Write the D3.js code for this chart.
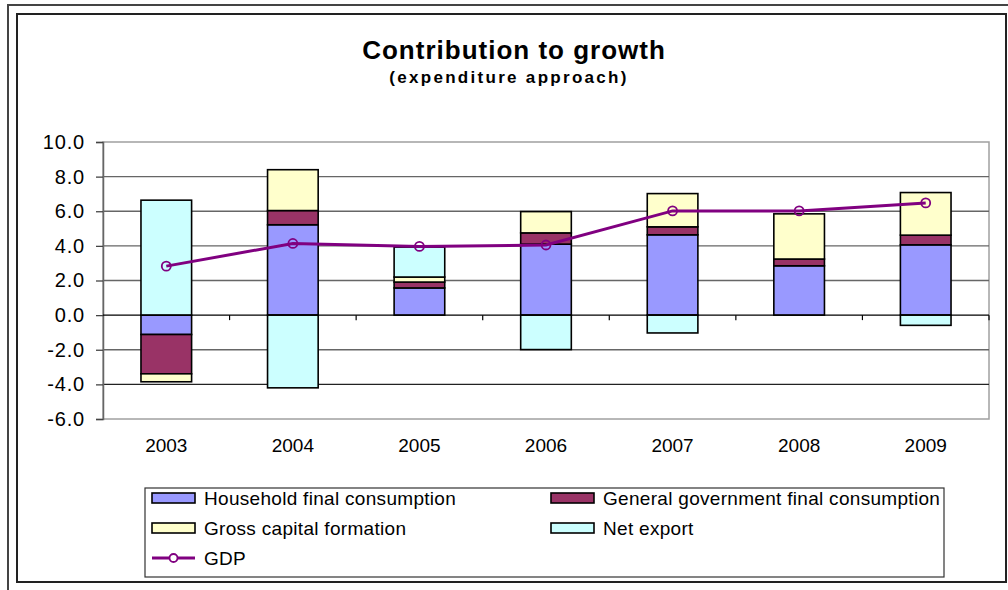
<!DOCTYPE html>
<html>
<head>
<meta charset="utf-8">
<script src="https://cdn.jsdelivr.net/npm/d3@7"></script>
<style>
  body { margin: 0; background: #fff; }
  text { font-family: "Liberation Sans", Arial, sans-serif; fill: #000; }
</style>
</head>
<body>
<svg id="chart" width="1008" height="590"></svg>
<script>
// values
var years = ["2003", "2004", "2005", "2006", "2007", "2008", "2009"];
var household = [-1.12, 5.22, 1.57, 4.10, 4.64, 2.85, 4.06];
var government = [-2.27, 0.82, 0.34, 0.65, 0.46, 0.39, 0.56];
var capital = [-0.46, 2.36, 0.29, 1.23, 1.92, 2.61, 2.46];
var netExport = [6.64, -4.20, 1.73, -1.99, -1.03, 0.00, -0.59];
var gdp = [2.83, 4.14, 3.97, 4.05, 6.02, 6.02, 6.48];
var yTicks = [-6, -4, -2, 0, 2, 4, 6, 8, 10];

var seriesNames = ["Household final consumption", "General government final consumption",
                   "Gross capital formation", "Net export"];
var seriesKeys = ["hh", "gov", "gcf", "nx"];
var colors = ["#9999ff", "#993366", "#ffffcc", "#ccffff"];

var svg = d3.select("#chart");

// outer frames
svg.append("path")
  .attr("d", "M8,590 V5 H1008")
  .attr("fill", "none").attr("stroke", "#444").attr("stroke-width", 2);
svg.append("rect")
  .attr("x", 17).attr("y", 14).attr("width", 989).attr("height", 568)
  .attr("fill", "#fff").attr("stroke", "#222").attr("stroke-width", 2);

// titles
svg.append("text")
  .attr("x", 514).attr("y", 59).attr("text-anchor", "middle")
  .style("font-size", "26px").style("font-weight", "bold").style("letter-spacing", "1px")
  .text("Contribution to growth");
svg.append("text")
  .attr("x", 509).attr("y", 83).attr("text-anchor", "middle")
  .style("font-size", "17px").style("font-weight", "bold").style("letter-spacing", "2.3px")
  .text("(expenditure approach)");

var plot = {left: 103, right: 989, top: 142, bottom: 419};

var x = d3.scaleBand()
  .domain(years)
  .range([plot.left, plot.right])
  .paddingInner(0.6)
  .paddingOuter(0.3);

var y = d3.scaleLinear()
  .domain([-6, 10])
  .range([plot.bottom, plot.top]);

// plot border
svg.append("rect")
  .attr("x", plot.left).attr("y", plot.top)
  .attr("width", plot.right - plot.left).attr("height", plot.bottom - plot.top)
  .attr("fill", "none").attr("stroke", "#a0a0a0").attr("stroke-width", 1.5);

// gridlines
svg.append("g").selectAll("line")
  .data(yTicks.filter(function(d) { return d != 0 && d != -6 && d != 10; }))
  .join("line")
  .attr("x1", plot.left).attr("x2", plot.right)
  .attr("y1", function(d) { return y(d); }).attr("y2", function(d) { return y(d); })
  .attr("stroke", function(d) { return d == -4 ? "#222" : "#666"; })
  .attr("stroke-width", 1.3);

// y axis
var yAxis = svg.append("g")
  .attr("transform", "translate(" + plot.left + ",0)")
  .call(d3.axisLeft(y).tickValues(yTicks)
    .tickFormat(function(d) { return d.toFixed(1); })
    .tickSize(7).tickPadding(11));
yAxis.select(".domain").attr("stroke", "#666").attr("stroke-width", 1.5);
yAxis.selectAll(".tick line").attr("stroke", "#444").attr("stroke-width", 1.3);
yAxis.selectAll("text")
  .style("font-size", "20px").style("letter-spacing", "0.8px")
  .style("font-family", "Liberation Sans, Arial, sans-serif");

// stacked bars (positives and negatives stacked separately)
var table = years.map(function(yr, i) {
  return {year: yr, hh: household[i], gov: government[i], gcf: capital[i], nx: netExport[i]};
});
var stacked = d3.stack().keys(seriesKeys).offset(d3.stackOffsetDiverging)(table);

svg.append("g").selectAll("g")
  .data(stacked)
  .join("g")
  .attr("fill", function(d, i) { return colors[i]; })
  .selectAll("rect")
  .data(function(d) { return d; })
  .join("rect")
  .attr("x", function(d) { return x(d.data.year); })
  .attr("width", x.bandwidth())
  .attr("y", function(d) { return y(Math.max(d[0], d[1])); })
  .attr("height", function(d) { return Math.abs(y(d[0]) - y(d[1])); })
  .attr("stroke", "#000")
  .attr("stroke-width", 1.6);

// zero line with category ticks
svg.append("line")
  .attr("x1", plot.left).attr("x2", plot.right)
  .attr("y1", y(0)).attr("y2", y(0))
  .attr("stroke", "#000").attr("stroke-width", 1.3);
var step = x.step();
svg.append("g").selectAll("line")
  .data(years.slice(1).concat(["end"]))
  .join("line")
  .attr("x1", function(d, i) { return plot.left + step * (i + 1); })
  .attr("x2", function(d, i) { return plot.left + step * (i + 1); })
  .attr("y1", y(0)).attr("y2", y(0) + 5)
  .attr("stroke", "#000").attr("stroke-width", 1.2);

// year labels
svg.append("g").selectAll("text")
  .data(years)
  .join("text")
  .attr("x", function(d) { return x(d) + x.bandwidth() / 2; })
  .attr("y", 452)
  .attr("text-anchor", "middle")
  .style("font-size", "19px")
  .text(function(d) { return d; });

// GDP line
var line = d3.line()
  .x(function(d, i) { return x(years[i]) + x.bandwidth() / 2; })
  .y(function(d) { return y(d); });
svg.append("path")
  .attr("d", line(gdp))
  .attr("fill", "none").attr("stroke", "#800080").attr("stroke-width", 3);
svg.append("g").selectAll("circle")
  .data(gdp)
  .join("circle")
  .attr("cx", function(d, i) { return x(years[i]) + x.bandwidth() / 2; })
  .attr("cy", function(d) { return y(d); })
  .attr("r", 4.5)
  .attr("fill", "none").attr("stroke", "#800080").attr("stroke-width", 1.8);

// legend
svg.append("rect")
  .attr("x", 145).attr("y", 488).attr("width", 799).attr("height", 89)
  .attr("fill", "#fff").attr("stroke", "#333").attr("stroke-width", 1.2);

var legendPos = [[152, 498], [551, 498], [152, 528], [551, 528]];
var leg = svg.append("g").selectAll("g")
  .data(seriesNames)
  .join("g")
  .attr("transform", function(d, i) { return "translate(" + legendPos[i][0] + "," + legendPos[i][1] + ")"; });
leg.append("rect")
  .attr("x", 0).attr("y", -5).attr("width", 43).attr("height", 10)
  .attr("fill", function(d, i) { return colors[i]; })
  .attr("stroke", "#000").attr("stroke-width", 1.6);
leg.append("text")
  .attr("x", 52).attr("y", 7)
  .style("font-size", "19px").style("letter-spacing", "0.3px")
  .text(function(d) { return d; });

var gdpLeg = svg.append("g").attr("transform", "translate(152,558)");
gdpLeg.append("line")
  .attr("x1", 0).attr("x2", 43).attr("y1", 0).attr("y2", 0)
  .attr("stroke", "#800080").attr("stroke-width", 3);
gdpLeg.append("circle")
  .attr("cx", 21.5).attr("cy", 0).attr("r", 4)
  .attr("fill", "#fff").attr("stroke", "#800080").attr("stroke-width", 1.8);
gdpLeg.append("text")
  .attr("x", 52).attr("y", 7)
  .style("font-size", "19px").style("letter-spacing", "0.3px")
  .text("GDP");
</script>
</body>
</html>
